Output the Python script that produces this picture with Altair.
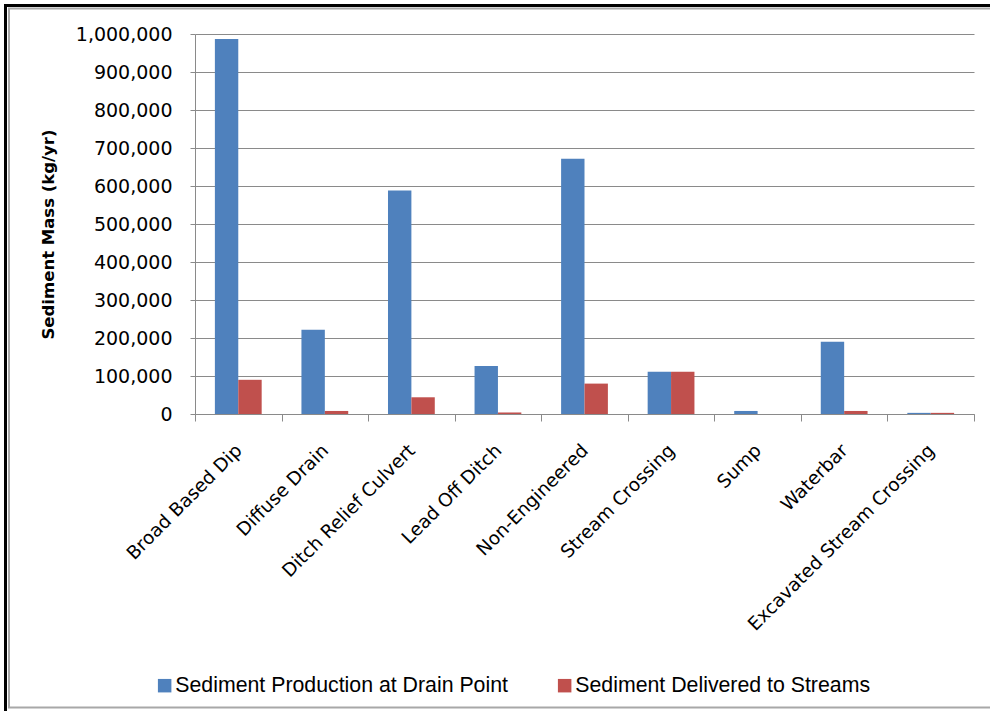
import altair as alt
import pandas as pd

# Drain point types and sediment masses (kg/yr)
categories = [
    "Broad Based Dip", "Diffuse Drain", "Ditch Relief Culvert", "Lead Off Ditch",
    "Non-Engineered", "Stream Crossing", "Sump", "Waterbar", "Excavated Stream Crossing",
]
production = [987000, 222000, 588000, 126000, 672000, 111000, 8000, 190000, 3000]
delivered = [90000, 8000, 44000, 4000, 80000, 111000, 0, 8000, 3000]

series_names = ["Sediment Production at Drain Point", "Sediment Delivered to Streams"]
series_colors = ["#4F81BD", "#C0504D"]
y_ticks = list(range(0, 1000001, 100000))

rows = []
for cat, p, d in zip(categories, production, delivered):
    rows.append({"category": cat, "series": series_names[0], "mass": p})
    rows.append({"category": cat, "series": series_names[1], "mass": d})
df = pd.DataFrame(rows)

GRID = "#8a8a8a"
PLOT_W, PLOT_H = 779, 380

bars = alt.Chart(df).mark_bar().encode(
    x=alt.X(
        "category:N",
        sort=categories,
        scale=alt.Scale(paddingInner=0, paddingOuter=0),
        axis=alt.Axis(
            title=None, labelAngle=315, labelAlign="right", labelBaseline="middle",
            labelFont="DejaVu Sans", labelFontSize=18.5, labelColor="#000000",
            labelPadding=26, labelOffset=0, labelLimit=500, tickBand="extent",
            tickSize=7, tickColor=GRID, domainColor=GRID, grid=False,
            labelOverlap=False,
        ),
    ),
    xOffset=alt.XOffset(
        "series:N", sort=series_names,
        scale=alt.Scale(paddingOuter=0.85, paddingInner=0),
    ),
    y=alt.Y(
        "mass:Q",
        scale=alt.Scale(domain=[0, 1000000], nice=False),
        axis=alt.Axis(
            title="Sediment Mass (kg/yr)", values=y_ticks, format=",d",
            labelFont="DejaVu Sans", labelFontSize=19, labelColor="#000000",
            labelPadding=18, tickSize=5, tickColor=GRID, domainColor=GRID,
            gridColor=GRID, gridWidth=1,
            titleFont="DejaVu Sans", titleFontSize=16.5, titleFontWeight="bold",
            titleColor="#000000", titleAngle=270, titleX=-147, titleY=200,
            titleAlign="center", titleBaseline="middle",
        ),
    ),
    color=alt.Color(
        "series:N",
        scale=alt.Scale(domain=series_names, range=series_colors),
        legend=alt.Legend(
            title=None, orient="none", direction="horizontal", padding=0,
            legendX=-41, legendY=641, symbolType="square", symbolSize=182,
            symbolStrokeWidth=0, labelFont="Liberation Sans", labelFontSize=21.3,
            labelColor="#000000", labelOffset=0, columnPadding=46,
            labelLimit=500,
        ),
    ),
)

# Double border around the chart
frame_data = alt.Data(values=[{}])
outer = alt.Chart(frame_data).mark_rect(
    fill="#ffffff", fillOpacity=0, stroke="#000000", strokeWidth=3
).encode(
    x=alt.value(-189.5), x2=alt.value(820), y=alt.value(-28.5), y2=alt.value(700)
)
inner = alt.Chart(frame_data).mark_rect(
    fill="#ffffff", fillOpacity=0, stroke="#a8a8a8", strokeWidth=2
).encode(
    x=alt.value(-186), x2=alt.value(830), y=alt.value(-25.5), y2=alt.value(673.5)
)

chart = alt.layer(bars, outer, inner).properties(
    width=PLOT_W,
    height=PLOT_H,
    autosize=alt.AutoSizeParams(type="none"),
    padding={"left": 195, "top": 34, "right": 16, "bottom": 297},
    background="#ffffff",
).configure_view(stroke=None)

chart.save("out.html", embed_options={"renderer": "svg", "actions": False})
